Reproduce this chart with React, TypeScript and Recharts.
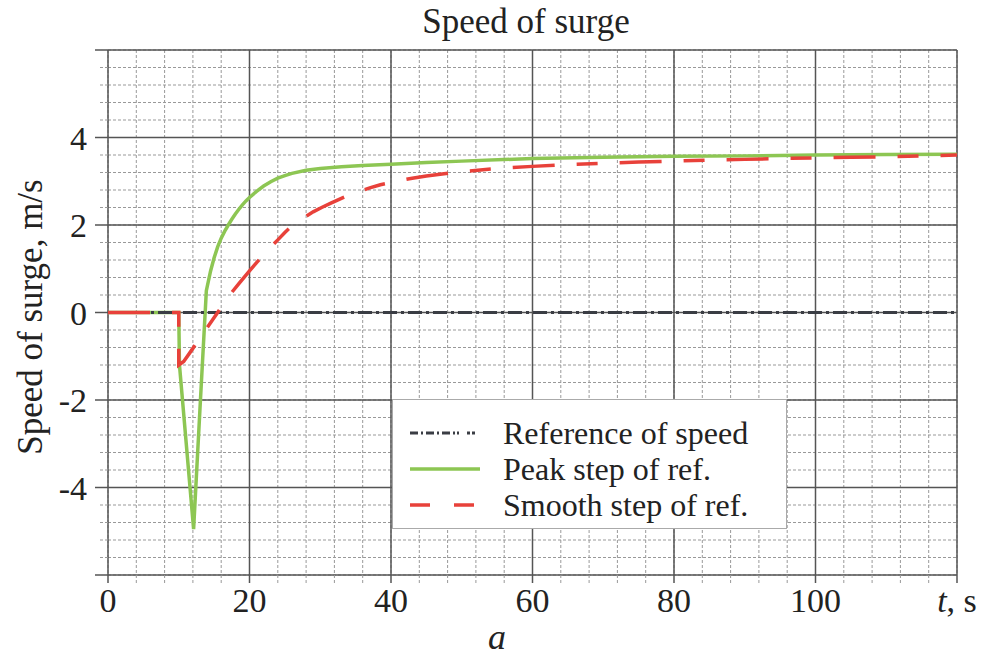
import { LineChart, Line, XAxis, YAxis, CartesianGrid, ReferenceLine, Legend } from 'recharts'

const FONT = '"Liberation Serif", "Times New Roman", serif'

// time axis ticks: majors are labelled, minors only get a dashed grid line
const xMajor = [0, 20, 40, 60, 80, 100, 120]
const xTicks = [0, 4, 8, 12, 16, 20, 24, 28, 32, 36, 40, 44, 48, 52, 56, 60, 64, 68, 72, 76, 80, 84, 88, 92, 96, 100, 104, 108, 112, 116, 120]
const yMajor = [-6, -4, -2, 0, 2, 4, 6]
const yLabelled = [-4, -2, 0, 2, 4]
const yTicks = [-6, -5.6, -5.2, -4.8, -4.4, -4, -3.6, -3.2, -2.8, -2.4, -2, -1.6, -1.2, -0.8, -0.4, 0, 0.4, 0.8, 1.2, 1.6, 2, 2.4, 2.8, 3.2, 3.6, 4, 4.4, 4.8, 5.2, 5.6, 6]

// reference of speed
const refT = [0, 120]
const refV = [0, 0]

// peak step of ref.
const peakT = [0, 10, 10.1, 12.1, 13, 13.9, 14.5, 15, 15.5, 16, 16.5, 17, 17.5, 18, 18.5, 19, 19.5, 20, 21, 22, 23, 24, 25, 26, 28, 30, 33, 36, 40, 45, 50, 60, 70, 80, 90, 100, 110, 120]
const peakV = [0, 0, -1.2, -4.95, -2.2, 0.5, 0.95, 1.25, 1.5, 1.7, 1.86, 2.0, 2.13, 2.25, 2.36, 2.46, 2.55, 2.63, 2.77, 2.89, 2.99, 3.07, 3.13, 3.18, 3.25, 3.29, 3.33, 3.36, 3.39, 3.43, 3.46, 3.52, 3.55, 3.57, 3.58, 3.6, 3.61, 3.62]

// smooth step of ref.
const smoothT = [0, 10, 10, 10.7, 12, 14, 17.2, 18.5, 20, 21, 22, 23, 24, 25, 26, 27, 28, 29, 30.2, 31.5, 32.6, 34, 35.6, 37, 38.5, 40, 41.3, 43, 45, 47.5, 50, 55, 60, 65, 70, 75, 80, 86, 90, 95, 100, 105, 110, 115, 120]
const smoothV = [0, 0, -1.2, -1.12, -0.82, -0.35, 0.4, 0.66, 0.95, 1.14, 1.32, 1.5, 1.66, 1.83, 1.98, 2.1, 2.2, 2.3, 2.4, 2.5, 2.58, 2.68, 2.77, 2.85, 2.92, 2.97, 3.02, 3.07, 3.12, 3.17, 3.22, 3.29, 3.34, 3.38, 3.41, 3.44, 3.46, 3.49, 3.5, 3.52, 3.53, 3.55, 3.56, 3.58, 3.6]

const toRows = (ts: number[], vs: number[]) => ts.map((t, i) => ({ t, v: vs[i] }))

const series = [
    { name: 'Reference of speed', color: '#3a3d44', width: 3, dash: '14 4 3 4' },
    { name: 'Peak step of ref.', color: '#8dc653', width: 3.5, dash: undefined },
    { name: 'Smooth step of ref.', color: '#e8413a', width: 3.5, dash: '42 22 21 22' },
]

const isMajor = (v: number, step: number) => Math.abs(v / step - Math.round(v / step)) < 1e-6

function XTick(props: any) {
    const { x, y, payload } = props
    const v = payload.value
    const major = isMajor(v, 20)
    return (
        <g>
            <line x1={x} x2={x} y1={y} y2={y + 8} stroke={major ? '#555' : '#999'} strokeWidth={major ? 1.5 : 1} strokeDasharray={major ? undefined : '3 2'} />
            {major && (
                <text x={x} y={y + 37} textAnchor="middle" fontFamily={FONT} fontSize={34} fill="#222">
                    {v === 120 ? (
                        <>
                            <tspan fontStyle="italic">t</tspan>, s
                        </>
                    ) : v}
                </text>
            )}
        </g>
    )
}

function YTick(props: any) {
    const { x, y, payload } = props
    const v = payload.value
    const major = isMajor(v, 2)
    const labelled = yLabelled.some((l) => Math.abs(l - v) < 1e-6)
    return (
        <g>
            <line x1={x - (major ? 13 : 8)} x2={x} y1={y} y2={y} stroke={major ? '#555' : '#999'} strokeWidth={major ? 1.5 : 1} strokeDasharray={major ? undefined : '3 2'} />
            {labelled && (
                <text x={x - 21} y={y} dy="0.36em" textAnchor="end" fontFamily={FONT} fontSize={34} fill="#222">
                    {v}
                </text>
            )}
        </g>
    )
}

// legend drawn in svg so each entry sits exactly on its row
function LegendBox() {
    return (
        <svg width={395} height={130} style={{ display: 'block' }}>
            <rect x={0.5} y={0.5} width={394} height={129} fill="#fff" stroke="#aaa" />
            {series.map((s, i) => {
                const cy = 34 + i * 36
                return (
                    <g key={s.name}>
                        <line x1={18} x2={88} y1={cy} y2={cy} stroke={s.color} strokeWidth={s.width} strokeDasharray={s.dash ? (i === 2 ? '20 24' : '8 3 2 3 8 3 2 3 8 3 2 2 2') : undefined} />
                        <text x={111} y={cy} dy="0.33em" fontFamily={FONT} fontSize={32} fill="#222">
                            {s.name}
                        </text>
                    </g>
                )
            })}
        </svg>
    )
}

export default function App() {
    return (
        <div style={{ position: 'absolute', left: 0, top: 0, width: 985, height: 656, background: '#fff' }}>
            <div style={{ position: 'absolute', left: 326, top: 2, width: 400, textAlign: 'center', fontFamily: FONT, fontSize: 35, lineHeight: '40px', color: '#222' }}>
                Speed of surge
            </div>
            <LineChart width={985} height={656} margin={{ top: 50, right: 28, bottom: 0, left: 0 }}>
                <CartesianGrid stroke="#999" strokeDasharray="3 2" />
                {xMajor.map((v) => (
                    <ReferenceLine key={`x${v}`} x={v} stroke="#555" strokeWidth={1.5} />
                ))}
                {yMajor.map((v) => (
                    <ReferenceLine key={`y${v}`} y={v} stroke="#555" strokeWidth={1.5} />
                ))}
                <XAxis dataKey="t" type="number" domain={[0, 120]} ticks={xTicks} interval={0} height={81} tickSize={0} tickMargin={0} axisLine={false} tickLine={false} tick={(p: any) => <XTick {...p} />} allowDataOverflow />
                <YAxis type="number" domain={[-6, 6]} ticks={yTicks} interval={0} width={108} tickSize={0} tickMargin={0} axisLine={false} tickLine={false} tick={(p: any) => <YTick {...p} />} allowDataOverflow
                    label={{
                        content: () => (
                            <text x={42} y={317} transform="rotate(-90 42 317)" textAnchor="middle" fontFamily={FONT} fontSize={35} fill="#222">
                                Speed of surge, m/s
                            </text>
                        ),
                    }}
                />
                <Line data={toRows(peakT, peakV)} dataKey="v" name={series[1].name} type="linear" stroke={series[1].color} strokeWidth={series[1].width} dot={false} isAnimationActive={false} />
                <Line data={toRows(refT, refV)} dataKey="v" name={series[0].name} type="linear" stroke={series[0].color} strokeWidth={series[0].width} strokeDasharray={series[0].dash} dot={false} isAnimationActive={false} />
                <Line data={toRows(smoothT, smoothV)} dataKey="v" name={series[2].name} type="linear" stroke={series[2].color} strokeWidth={series[2].width} strokeDasharray={series[2].dash} dot={false} isAnimationActive={false} />
                <Legend layout="vertical" align="center" verticalAlign="middle" content={() => <LegendBox />} wrapperStyle={{ left: 392, top: 399, width: 395, height: 130 }} />
            </LineChart>
            <div style={{ position: 'absolute', left: 447, top: 617, width: 100, textAlign: 'center', fontFamily: FONT, fontSize: 36, fontStyle: 'italic', lineHeight: '40px', color: '#222' }}>
                a
            </div>
        </div>
    )
}
